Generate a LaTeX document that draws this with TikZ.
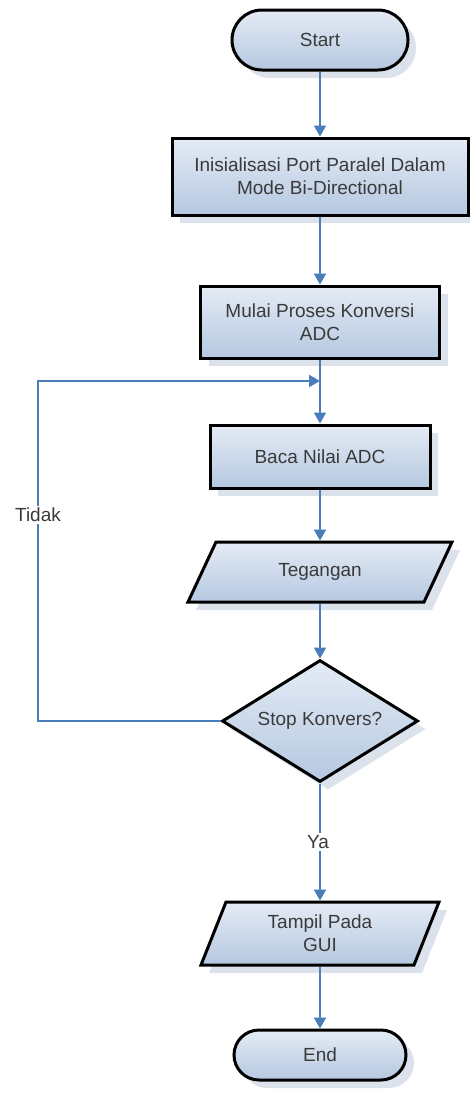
\documentclass[tikz,border=0pt]{standalone}
\usepackage{fontspec}
\setmainfont{Liberation Sans}
\usetikzlibrary{shapes.geometric,shadows,arrows.meta}
\definecolor{linec}{HTML}{4A7EBB}
\definecolor{topc}{HTML}{E4EBF5}
\definecolor{botc}{HTML}{B5C8E0}
\definecolor{shadc}{HTML}{DCE2EB}
\definecolor{txtc}{HTML}{3A3A3A}
\begin{document}
\begin{tikzpicture}[x=1pt,y=-1pt,
  look/.style={draw=black, line width=3pt, top color=topc, bottom color=botc,
    drop shadow={shadow xshift=8pt, shadow yshift=-8pt, fill=shadc, opacity=1}},
  txt/.style={text=txtc, font=\fontsize{19}{23}\selectfont, align=center, inner sep=0pt},
  base/.style={look, txt},
  term/.style={base, rectangle, rounded corners=#1},
  proc/.style={base, rectangle},
  iotext/.style={txt, rectangle, outer sep=1.5pt},
  ioshape/.style={look, line join=miter},
  dec/.style={base, diamond, aspect=1.6},
  conn/.style={draw=linec, line width=2pt, -{Triangle[length=11pt,width=12pt]}},
  lbl/.style={fill=white, text=txtc, font=\fontsize{19}{23}\selectfont, inner sep=2pt}]
\useasboundingbox (0,0) rectangle (470,1093);
\fill[white] (0,0) rectangle (470,1093);

\node[term=30pt, minimum width=176, minimum height=60] (start) at (320,40) {Start};
\node[proc, minimum width=296, minimum height=77] (init) at (320,176.5) {Inisialisasi Port Paralel Dalam\\Mode Bi-Directional};
\node[proc, minimum width=239, minimum height=72] (mulai) at (320,322) {Mulai Proses Konversi\\ADC};
\node[proc, minimum width=220, minimum height=63] (baca) at (320,456.5) {Baca Nilai ADC};

\path[ioshape] (216,542) -- (452,542) -- (424,602) -- (188,602) -- cycle;
\node[iotext, minimum width=236, minimum height=60] (teg) at (320,572) {Tegangan};

\node[dec, minimum width=196, minimum height=122] (stop) at (320,721) {Stop Konvers?};

\path[ioshape] (226,902) -- (439,902) -- (414,965) -- (201,965) -- cycle;
\node[iotext, minimum width=213, minimum height=63] (tampil) at (320,933.5) {Tampil Pada\\GUI};

\node[term=25pt, minimum width=172, minimum height=50] (end) at (320,1055) {End};

\coordinate (lA) at (38,721);
\coordinate (lB) at (38,381);
\coordinate (lC) at (320,381);

\draw[conn] (start.south) -- (init.north);
\draw[conn] (init.south) -- (mulai.north);
\draw[conn] (mulai.south) -- (baca.north);
\draw[conn] (baca.south) -- (teg.north);
\draw[conn] (teg.south) -- (stop.north);
\draw[conn] (stop.south) -- (tampil.north);
\draw[conn] (tampil.south) -- (end.north);
\draw[conn] (stop.west) -- (lA) -- (lB) -- (lC);

\node[lbl] (tidak) at (38,515) {Tidak};
\node[lbl] (ya) at (318,842) {Ya};
\end{tikzpicture}
\end{document}
